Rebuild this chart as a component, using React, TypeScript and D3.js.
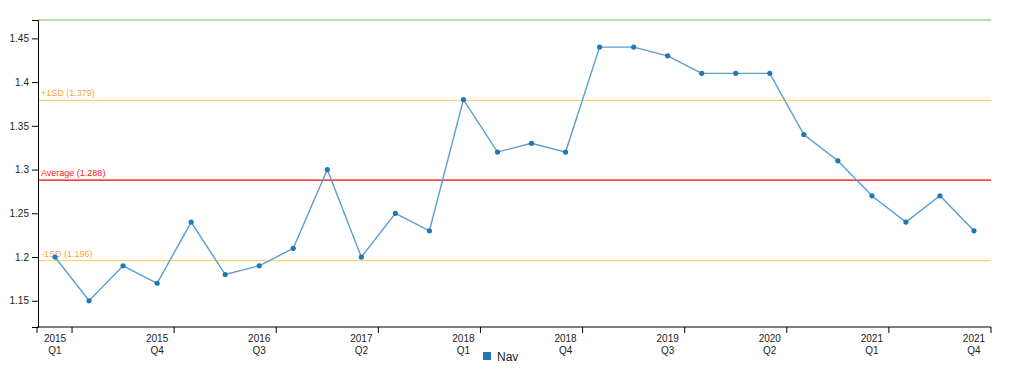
import React, { useEffect, useRef } from "react";
import * as d3 from "d3";

const quarters: string[] = [];
const years = ["2015", "2016", "2017", "2018", "2019", "2020", "2021"];
const qNames = ["Q1", "Q2", "Q3", "Q4"];
years.forEach((y) => qNames.forEach((q) => quarters.push(`${y} ${q}`)));

const navValues = [
  1.2, 1.15, 1.19, 1.17,
  1.24, 1.18, 1.19, 1.21,
  1.3, 1.2, 1.25, 1.23,
  1.38, 1.32, 1.33, 1.32,
  1.44, 1.44, 1.43, 1.41,
  1.41, 1.41, 1.34, 1.31,
  1.27, 1.24, 1.27, 1.23,
];

const yTicks = [1.15, 1.2, 1.25, 1.3, 1.35, 1.4, 1.45];
const refLines = [
  { name: "+2SD", value: 1.471, color: "#98d98e", label: false },
  { name: "+1SD", value: 1.379, color: "#fdd17e", label: true, textColor: "#f7a535" },
  { name: "Average", value: 1.288, color: "#ff0000", label: true, textColor: "#ff2020" },
  { name: "-1SD", value: 1.196, color: "#fdd17e", label: true, textColor: "#f7a535" },
];
const yDomain = [1.12, 1.471];

export default function App() {
  const ref = useRef<SVGSVGElement>(null);

  useEffect(() => {
    const svg = d3.select(ref.current);
    svg.selectAll("*").remove();
    const left = 38, right = 991, top = 20, bottom = 327;
    const font = "'Liberation Sans', Arial, sans-serif";

    const x = d3.scaleBand<string>().domain(quarters).range([left, right]);
    const y = d3.scaleLinear().domain(yDomain).range([bottom, top]);
    const cx = (q: string) => (x(q) as number) + x.bandwidth() / 2;

    // reference lines
    refLines.forEach((r) => {
      svg.append("line")
        .attr("x1", left).attr("x2", right)
        .attr("y1", y(r.value)).attr("y2", y(r.value))
        .attr("stroke", r.color).attr("stroke-width", 1.3);
      if (r.label) {
        svg.append("text")
          .attr("x", left + 3).attr("y", y(r.value) - 4)
          .attr("fill", (r as any).textColor)
          .attr("font-family", font).attr("font-size", 9)
          .text(`${r.name} (${r.value.toFixed(3)})`);
      }
    });

    // y axis
    const yAxis = svg.append("g").attr("transform", `translate(${left},0)`)
      .call(d3.axisLeft(y).tickValues(yTicks).tickFormat((d) => String(+d)).tickSizeOuter(6));
    yAxis.selectAll("text").attr("font-family", font).attr("font-size", 10).attr("fill", "#222");
    yAxis.select(".domain").attr("stroke", "#000");

    // x axis
    const labelIdx = quarters.map((_, i) => i).filter((i) => i % 3 === 0);
    const gx = svg.append("g").attr("transform", `translate(0,${bottom})`);
    gx.append("line").attr("x1", left - 1).attr("x2", right).attr("y1", 0).attr("y2", 0).attr("stroke", "#000");
    gx.append("line").attr("x1", left - 1).attr("x2", left - 1).attr("y1", 0).attr("y2", 6).attr("stroke", "#000");
    labelIdx.forEach((i) => {
      const q = quarters[i];
      const tx = (x(q) as number) + x.bandwidth();
      gx.append("line").attr("x1", tx).attr("x2", tx).attr("y1", 0).attr("y2", 6).attr("stroke", "#000");
      const [yr, qq] = q.split(" ");
      const t = gx.append("text").attr("x", cx(q)).attr("y", 15)
        .attr("text-anchor", "middle").attr("font-family", font).attr("font-size", 10).attr("fill", "#222");
      t.append("tspan").attr("x", cx(q)).attr("dy", 0).text(yr);
      t.append("tspan").attr("x", cx(q)).attr("dy", 12).text(qq);
    });

    // line
    const line = d3.line<number>().x((_, i) => cx(quarters[i])).y((d) => y(d));
    svg.append("path").datum(navValues).attr("d", line).attr("fill", "none")
      .attr("stroke", "#5b9ccf").attr("stroke-width", 1.4);
    svg.selectAll("circle.pt").data(navValues).enter().append("circle")
      .attr("cx", (_, i) => cx(quarters[i])).attr("cy", (d) => y(d)).attr("r", 2.6)
      .attr("fill", "#1f77b4");

    // legend
    svg.append("rect").attr("x", 483).attr("y", 352).attr("width", 8).attr("height", 8).attr("fill", "#1f77b4");
    svg.append("text").attr("x", 497).attr("y", 360.5).attr("font-family", font).attr("font-size", 12)
      .attr("fill", "#222").text("Nav");
  }, []);

  return (
    <svg ref={ref} width={1024} height={378}
      style={{ position: "absolute", left: 0, top: 0, background: "#fff" }} />
  );
}
